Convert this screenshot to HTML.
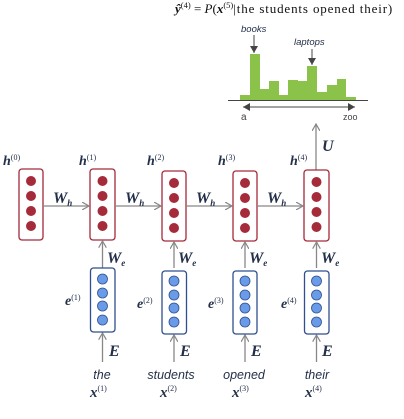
<!DOCTYPE html>
<html><head><meta charset="utf-8"><style>
html,body{margin:0;padding:0;background:#fff;}
svg{display:block;}
.m{font-family:"Liberation Serif",serif;font-weight:bold;font-style:italic;fill:#243049;}
.s{font-family:"Liberation Sans",sans-serif;font-style:italic;fill:#243049;}
</style></head><body>
<svg width="404" height="419" viewBox="0 0 404 419" xmlns="http://www.w3.org/2000/svg">
<defs><marker id="a" markerWidth="8" markerHeight="8" refX="7" refY="4" orient="auto" markerUnits="userSpaceOnUse"><path d="M0,0 L7,4 L0,8" fill="none" stroke="#888" stroke-width="1.2"/></marker>
<marker id="b" markerWidth="8" markerHeight="8" refX="7" refY="4" orient="auto" markerUnits="userSpaceOnUse"><path d="M0,0 L7,4 L0,8 z" fill="#444"/></marker></defs>
<text x="175" y="13" font-family="Liberation Serif,serif" font-size="13" fill="#111"><tspan font-weight="bold" font-style="italic">ŷ</tspan><tspan font-size="8.5" dy="-5">(4)</tspan><tspan dy="5"> = </tspan><tspan font-style="italic">P</tspan>(<tspan font-weight="bold" font-style="italic">x</tspan><tspan font-size="8.5" dy="-5">(5)</tspan><tspan dy="5" textLength="159" lengthAdjust="spacing">|the students opened their)</tspan></text>
<g fill="#8bc34a">
<rect x="240" y="95" width="10" height="5"/><rect x="250" y="54" width="10" height="46"/><rect x="260" y="89" width="9" height="11"/><rect x="269" y="81" width="10" height="19"/><rect x="279" y="95" width="9" height="5"/><rect x="288" y="80" width="10" height="20"/><rect x="298" y="81" width="9" height="19"/><rect x="307" y="66" width="10" height="34"/><rect x="317" y="92" width="10" height="8"/><rect x="327" y="85" width="10" height="15"/><rect x="337" y="79" width="9" height="21"/><rect x="346" y="97" width="10" height="3"/></g>
<line x1="228" y1="100.5" x2="368" y2="100.5" stroke="#444" stroke-width="1"/>
<line x1="243" y1="107" x2="355" y2="107" stroke="#444" stroke-width="1" marker-end="url(#b)"/>
<line x1="355" y1="107" x2="243" y2="107" stroke="#444" stroke-width="1" marker-end="url(#b)"/>
<text x="241" y="120" font-family="Liberation Sans,sans-serif" font-size="10" fill="#444">a</text>
<text x="343" y="120" font-family="Liberation Sans,sans-serif" font-size="9" fill="#444">zoo</text>
<text x="241" y="32" class="s" font-size="9.5">books</text>
<line x1="254" y1="35" x2="254" y2="53" stroke="#444" marker-end="url(#b)"/>
<text x="294" y="45" class="s" font-size="9.5">laptops</text>
<line x1="312" y1="49" x2="312" y2="65" stroke="#444" marker-end="url(#b)"/>
<line x1="316" y1="170" x2="316" y2="124" stroke="#888" stroke-width="1.3" marker-end="url(#a)"/>
<text x="322" y="151" class="m" font-size="16">U</text>
<g stroke="#a52a3a" stroke-width="1.3" fill="#fff">
<rect x="19" y="169" width="24" height="71" rx="3"/><rect x="90" y="169" width="25" height="71" rx="3"/><rect x="162" y="171" width="24" height="70" rx="3"/><rect x="233" y="171" width="24" height="70" rx="3"/><rect x="304" y="170" width="25" height="71" rx="3"/></g>
<g fill="#a52a3a">
<circle cx="31" cy="181" r="5"/><circle cx="31" cy="196" r="5"/><circle cx="31" cy="211" r="5"/><circle cx="31" cy="226" r="5"/>
<circle cx="102.5" cy="181" r="5"/><circle cx="102.5" cy="196" r="5"/><circle cx="102.5" cy="211" r="5"/><circle cx="102.5" cy="226" r="5"/>
<circle cx="174" cy="183" r="5"/><circle cx="174" cy="198" r="5"/><circle cx="174" cy="213" r="5"/><circle cx="174" cy="228" r="5"/>
<circle cx="245" cy="183" r="5"/><circle cx="245" cy="198" r="5"/><circle cx="245" cy="213" r="5"/><circle cx="245" cy="228" r="5"/>
<circle cx="316.5" cy="182" r="5"/><circle cx="316.5" cy="197" r="5"/><circle cx="316.5" cy="212" r="5"/><circle cx="316.5" cy="227" r="5"/></g>
<g class="m" font-size="14">
<text x="3" y="165">h<tspan font-size="8" font-style="normal" font-weight="normal" dy="-5">(0)</tspan></text>
<text x="79" y="165">h<tspan font-size="8" font-style="normal" font-weight="normal" dy="-5">(1)</tspan></text>
<text x="147" y="165">h<tspan font-size="8" font-style="normal" font-weight="normal" dy="-5">(2)</tspan></text>
<text x="218" y="165">h<tspan font-size="8" font-style="normal" font-weight="normal" dy="-5">(3)</tspan></text>
<text x="290" y="165">h<tspan font-size="8" font-style="normal" font-weight="normal" dy="-5">(4)</tspan></text>
</g>
<g stroke="#888" stroke-width="1.3" marker-end="url(#a)">
<line x1="43" y1="206" x2="89" y2="206"/><line x1="115" y1="206" x2="161" y2="206"/><line x1="186" y1="206" x2="232" y2="206"/><line x1="257" y1="206" x2="303" y2="206"/>
<line x1="102.5" y1="268" x2="102.5" y2="241"/><line x1="174" y1="268" x2="174" y2="242"/><line x1="245" y1="268" x2="245" y2="242"/><line x1="316.5" y1="268" x2="316.5" y2="242"/>
<line x1="102.5" y1="362" x2="102.5" y2="333"/><line x1="174" y1="362" x2="174" y2="335"/><line x1="245" y1="362" x2="245" y2="335"/><line x1="316.5" y1="362" x2="316.5" y2="335"/>
</g>
<g class="m" font-size="16">
<text x="53" y="203">W<tspan font-size="9" dy="3">h</tspan></text>
<text x="125" y="203">W<tspan font-size="9" dy="3">h</tspan></text>
<text x="196" y="203">W<tspan font-size="9" dy="3">h</tspan></text>
<text x="267" y="203">W<tspan font-size="9" dy="3">h</tspan></text>
<text x="107" y="263">W<tspan font-size="9" dy="3">e</tspan></text>
<text x="178" y="263">W<tspan font-size="9" dy="3">e</tspan></text>
<text x="249" y="263">W<tspan font-size="9" dy="3">e</tspan></text>
<text x="321" y="263">W<tspan font-size="9" dy="3">e</tspan></text>
<text x="109" y="356">E</text><text x="180" y="356">E</text><text x="251" y="356">E</text><text x="322" y="356">E</text>
</g>
<g stroke="#2f4f8f" stroke-width="1.3" fill="#fff">
<rect x="90.5" y="268" width="24.5" height="64" rx="3"/><rect x="162" y="271" width="24.5" height="63" rx="3"/><rect x="233" y="271" width="24" height="63" rx="3"/><rect x="304.5" y="271" width="24.5" height="63" rx="3"/></g>
<g fill="#6a9be8" stroke="#2f4f8f" stroke-width="0.8">
<circle cx="102.5" cy="279" r="5"/><circle cx="102.5" cy="293" r="5"/><circle cx="102.5" cy="306" r="5"/><circle cx="102.5" cy="320" r="5"/>
<circle cx="174" cy="281" r="5"/><circle cx="174" cy="295" r="5"/><circle cx="174" cy="308" r="5"/><circle cx="174" cy="322" r="5"/>
<circle cx="245" cy="281" r="5"/><circle cx="245" cy="295" r="5"/><circle cx="245" cy="308" r="5"/><circle cx="245" cy="322" r="5"/>
<circle cx="316.5" cy="281" r="5"/><circle cx="316.5" cy="295" r="5"/><circle cx="316.5" cy="308" r="5"/><circle cx="316.5" cy="322" r="5"/></g>
<g class="m" font-size="14">
<text x="65" y="305">e<tspan font-size="8" font-style="normal" font-weight="normal" dy="-5">(1)</tspan></text>
<text x="137" y="308">e<tspan font-size="8" font-style="normal" font-weight="normal" dy="-5">(2)</tspan></text>
<text x="208" y="308">e<tspan font-size="8" font-style="normal" font-weight="normal" dy="-5">(3)</tspan></text>
<text x="281" y="308">e<tspan font-size="8" font-style="normal" font-weight="normal" dy="-5">(4)</tspan></text>
</g>
<g class="s" font-size="12.5" text-anchor="middle">
<text x="102" y="379">the</text><text x="171" y="379">students</text><text x="244" y="379">opened</text><text x="317" y="379">their</text></g>
<g class="m" font-size="15">
<text x="90" y="397">x<tspan font-size="8" font-style="normal" font-weight="normal" dy="-6">(1)</tspan></text>
<text x="160" y="397">x<tspan font-size="8" font-style="normal" font-weight="normal" dy="-6">(2)</tspan></text>
<text x="232" y="397">x<tspan font-size="8" font-style="normal" font-weight="normal" dy="-6">(3)</tspan></text>
<text x="305" y="397">x<tspan font-size="8" font-style="normal" font-weight="normal" dy="-6">(4)</tspan></text>
</g>
</svg>
</body></html>
